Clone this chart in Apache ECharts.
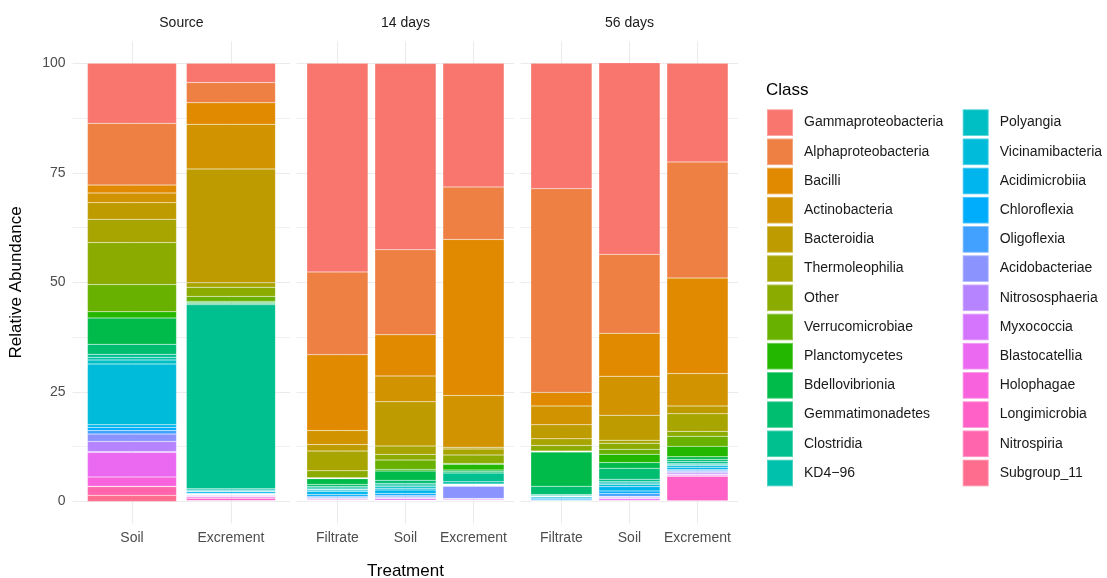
<!DOCTYPE html>
<html>
<head>
<meta charset="utf-8">
<script src="https://cdn.jsdelivr.net/npm/echarts@6/dist/echarts.min.js"></script>
<style>
  html, body { margin: 0; padding: 0; background: #ffffff; }
  #chart { width: 1107px; height: 578px; }
</style>
</head>
<body>
<div id="chart"></div>
<script>
// ---------------- DATA ----------------
const classes = [
  'Gammaproteobacteria', 'Alphaproteobacteria', 'Bacilli', 'Actinobacteria', 'Bacteroidia',
  'Thermoleophilia', 'Other', 'Verrucomicrobiae', 'Planctomycetes', 'Bdellovibrionia',
  'Gemmatimonadetes', 'Clostridia', 'KD4\u221296', 'Polyangia', 'Vicinamibacteria',
  'Acidimicrobiia', 'Chloroflexia', 'Oligoflexia', 'Acidobacteriae', 'Nitrososphaeria',
  'Myxococcia', 'Blastocatellia', 'Holophagae', 'Longimicrobia', 'Nitrospiria', 'Subgroup_11'
];
const facets = ['Source', '14 days', '56 days'];
const sourceTreatments = ['Soil', 'Excrement'];
const day14Treatments = ['Filtrate', 'Soil', 'Excrement'];
const day56Treatments = ['Filtrate', 'Soil', 'Excrement'];
const yTickLabels = [0, 25, 50, 75, 100];

// relative abundance (%) per class, in the order of `classes`
const sourceSoil      = [13.7, 14.1, 1.8, 2.2, 3.8, 5.3, 9.6, 6.2, 1.4, 6.0, 2.3, 0.7, 0.6, 0.9, 13.9, 0.6, 0.7, 0.8, 1.7, 2.3, 0.2, 5.6, 2.1, 0.1, 2.0, 1.4];
const sourceExcrement = [4.4, 4.6, 4.9, 10.2, 26.0, 1.0, 2.1, 1.1, 0.3, 0.2, 0.3, 42.0, 0.3, 0.2, 0.2, 0.3, 0.2, 0.1, 0.1, 0.2, 0.1, 0.2, 0.3, 0.5, 0.1, 0.1];
const d14Filtrate     = [47.6, 18.9, 17.3, 3.2, 1.5, 4.5, 1.6, 0.1, 0.1, 1.3, 0.5, 0.3, 0.3, 0.2, 0.3, 0.7, 0.4, 0.3, 0.2, 0.1, 0.1, 0.2, 0.1, 0.1, 0.05, 0.05];
const d14Soil         = [42.5, 19.4, 9.4, 5.9, 10.1, 1.9, 1.3, 2.1, 0.4, 2.1, 0.7, 0.4, 0.4, 0.35, 0.35, 0.8, 0.45, 0.3, 0.2, 0.2, 0.1, 0.3, 0.1, 0.1, 0.05, 0.05];
const d14Excrement    = [28.2, 12.0, 35.6, 11.8, 0.4, 1.4, 1.9, 0.2, 1.3, 0.4, 0.3, 2.0, 0.5, 0.1, 0.1, 0.1, 0.1, 0.1, 2.8, 0.1, 0.1, 0.2, 0.1, 0.1, 0.05, 0.05];
const d56Filtrate     = [28.6, 46.5, 3.1, 4.3, 3.2, 1.5, 1.3, 0.1, 0.1, 7.8, 1.9, 0.2, 0.2, 0.1, 0.1, 0.3, 0.3, 0.2, 0.05, 0.05, 0.05, 0.05, 0.0, 0.0, 0.0, 0.0];
const d56Soil         = [43.7, 18.0, 9.8, 8.9, 5.7, 0.7, 1.4, 1.1, 1.9, 1.3, 2.5, 0.6, 0.3, 0.3, 0.5, 1.0, 0.6, 0.6, 0.2, 0.2, 0.2, 0.3, 0.2, 0.05, 0.05, 0.0];
const d56Excrement    = [22.5, 26.5, 21.8, 7.4, 1.8, 4.0, 1.1, 2.3, 2.4, 0.6, 0.5, 0.5, 0.2, 0.2, 0.4, 0.5, 0.2, 0.2, 0.3, 0.3, 0.2, 0.2, 0.15, 5.6, 0.1, 0.05];

const panels = [
  { title: facets[0], cats: sourceTreatments, samples: [sourceSoil, sourceExcrement] },
  { title: facets[1], cats: day14Treatments, samples: [d14Filtrate, d14Soil, d14Excrement] },
  { title: facets[2], cats: day56Treatments, samples: [d56Filtrate, d56Soil, d56Excrement] }
];

// ---------------- COLOURS (ggplot2 default hue palette) ----------------
function hcl(h, c, l) {
  const WY = 100, Wu = 0.1978398, Wv = 0.4683363;
  const hr = h * Math.PI / 180;
  const U = c * Math.cos(hr), V = c * Math.sin(hr);
  const Y = WY * (l > 7.999592 ? Math.pow((l + 16) / 116, 3) : l / 903.3);
  const u = U / (13 * l) + Wu, v = V / (13 * l) + Wv;
  const X = 9 * Y * u / (4 * v);
  const Z = -X / 3 - 5 * Y + 3 * Y / v;
  const g = t => t > 0.00304 ? 1.055 * Math.pow(t, 1 / 2.4) - 0.055 : 12.92 * t;
  const rgb = [
    g((3.240479 * X - 1.537150 * Y - 0.498535 * Z) / WY),
    g((-0.969256 * X + 1.875992 * Y + 0.041556 * Z) / WY),
    g((0.055648 * X - 0.204043 * Y + 1.057311 * Z) / WY)
  ];
  return '#' + rgb.map(x => {
    const k = Math.round(255 * Math.min(1, Math.max(0, x)));
    return k.toString(16).padStart(2, '0');
  }).join('');
}
const palette = classes.map((_, i) => hcl(15 + i * 360 / classes.length, 100, 65));

// ---------------- LAYOUT ----------------
const FONT = '"Liberation Sans", Arial, sans-serif';
const W = 1107, H = 578;
const panelLeft0 = 72.6, panelW = 217.7, panelGap = 6.3;
const plotTop = 41.4, plotBottom = 523.4;
const yMin = -5, yMax = 105;

const grids = [], xAxes = [], yAxes = [], series = [], graphics = [];

panels.forEach((p, i) => {
  const n = p.cats.length;
  const pl = panelLeft0 + i * (panelW + panelGap);
  // background grid spanning the full panel (for grid lines)
  grids.push({ left: pl, width: panelW, top: plotTop, height: plotBottom - plotTop, outerBoundsMode: 'none' });
  xAxes.push({ gridIndex: i, type: 'value', min: 0.4, max: n + 0.6, show: false });
  yAxes.push({
    gridIndex: i, type: 'value', min: yMin, max: yMax, show: i === 0,
    axisLine: { show: false }, axisTick: { show: false }, splitLine: { show: false },
    axisLabel: { show: i === 0, customValues: yTickLabels, color: '#4D4D4D', fontSize: 14, fontFamily: FONT, margin: 7 }
  });
  const hLines = [];
  for (let v = 0; v <= 100; v += 12.5) {
    const major = yTickLabels.indexOf(v) >= 0;
    hLines.push({ yAxis: v, lineStyle: { color: '#EBEBEB', width: major ? 1.1 : 0.7, type: 'solid' } });
  }
  const vLines = p.cats.map((_, k) => ({ xAxis: k + 1, lineStyle: { color: '#EBEBEB', width: 1.1, type: 'solid' } }));
  series.push({
    type: 'line', xAxisIndex: i, yAxisIndex: i, data: [], silent: true, z: 0,
    markLine: { z: 0, silent: true, symbol: ['none', 'none'], label: { show: false }, animation: false, data: hLines.concat(vLines) }
  });
  // strip label
  graphics.push({
    type: 'text', x: pl + panelW / 2, y: 23,
    style: { text: p.title, textAlign: 'center', textVerticalAlign: 'middle', fontSize: 14, fontFamily: FONT, fill: '#1A1A1A' }
  });
});

panels.forEach((p, i) => {
  const n = p.cats.length;
  const pl = panelLeft0 + i * (panelW + panelGap);
  const unit = panelW / (n + 0.2);   // panel spans 0.4 .. n+0.6 in category units
  const gi = panels.length + i;
  grids.push({ left: pl + 0.1 * unit, width: n * unit, top: plotTop, height: plotBottom - plotTop, outerBoundsMode: 'none' });
  xAxes.push({
    gridIndex: gi, type: 'category', data: p.cats,
    axisLine: { show: false }, axisTick: { show: false }, splitLine: { show: false },
    axisLabel: { interval: 0, color: '#4D4D4D', fontSize: 14, fontFamily: FONT, margin: 8 }
  });
  yAxes.push({ gridIndex: gi, type: 'value', min: yMin, max: yMax, show: false, splitLine: { show: false } });
  for (let c = classes.length - 1; c >= 0; c--) {
    series.push({
      type: 'bar', name: classes[c], stack: 'panel' + i,
      xAxisIndex: gi, yAxisIndex: gi, z: 3,
      barCategoryGap: '10%',
      data: p.samples.map(s => s[c]),
      itemStyle: { color: palette[c], borderColor: 'rgba(255,255,255,0.3)', borderWidth: 0.5 }
    });
  }
});

graphics.push({
  type: 'text', x: 16, y: (plotTop + plotBottom) / 2, rotation: Math.PI / 2,
  style: { text: 'Relative Abundance', textAlign: 'center', textVerticalAlign: 'middle', fontSize: 17, fontFamily: FONT, fill: '#000000' }
});
graphics.push({
  type: 'text', x: panelLeft0 + (3 * panelW + 2 * panelGap) / 2, y: 571,
  style: { text: 'Treatment', textAlign: 'center', textVerticalAlign: 'middle', fontSize: 17, fontFamily: FONT, fill: '#000000' }
});
graphics.push({
  type: 'text', x: 766, y: 90,
  style: { text: 'Class', textAlign: 'left', textVerticalAlign: 'middle', fontSize: 17, fontFamily: FONT, fill: '#000000' }
});

const legendCols = [766, 961.7];
const legends = legendCols.map((left, k) => ({
  data: classes.slice(k * 13, k * 13 + 13),
  orient: 'vertical', left: left, top: 108.3, padding: 0,
  itemWidth: 26, itemHeight: 26.6, itemGap: 0.6, icon: 'rect', selectedMode: false,
  textStyle: { fontSize: 14, fontFamily: FONT, color: '#1A1A1A', padding: [0, 0, 0, 6] }
}));

const chart = echarts.init(document.getElementById('chart'), null, { renderer: 'canvas', width: W, height: H });
chart.setOption({
  backgroundColor: '#ffffff',
  animation: false,
  grid: grids,
  xAxis: xAxes,
  yAxis: yAxes,
  legend: legends,
  graphic: graphics,
  series: series
});
</script>
</body>
</html>
